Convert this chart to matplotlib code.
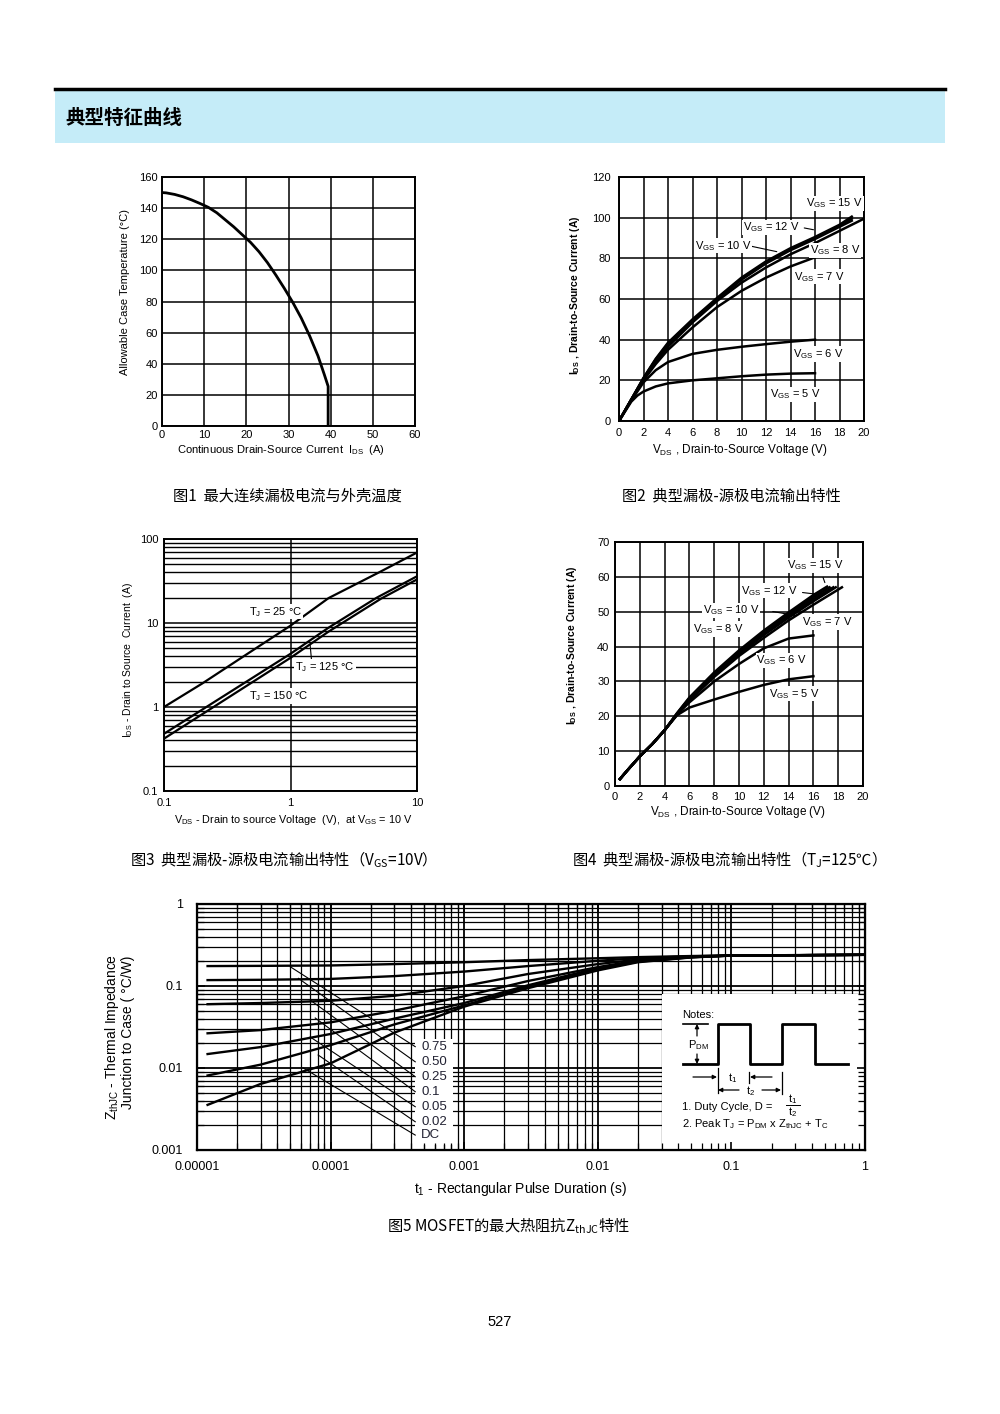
import numpy as np
import matplotlib
matplotlib.use('Agg')
from matplotlib import pyplot as plt
from matplotlib.ticker import MultipleLocator, FixedLocator, FixedFormatter, LogLocator, NullFormatter, NullLocator
from matplotlib.patches import Rectangle
from matplotlib.lines import Line2D

plt.rcParams['font.family'] = ['Liberation Sans', 'DejaVu Sans']
plt.rcParams['mathtext.fontset'] = 'custom'
plt.rcParams['mathtext.rm'] = 'Liberation Sans'
plt.rcParams['mathtext.default'] = 'regular'
CJK = ['Noto Sans CJK SC', 'DejaVu Sans']

# ---- fig1: allowable case temperature vs current
f1_ids = [0, 1, 3, 5, 7, 9, 11, 13, 15, 17, 19, 21, 23, 25, 27, 29, 31, 33, 35, 37, 38.5, 39.4, 39.4]
f1_tc = [150, 149.8, 148.8, 147.3, 145.3, 143, 140.5, 137, 132.5, 128, 123, 118, 112, 105, 97,
         88.5, 79.5, 69.5, 58, 45, 33, 25.5, 0]

# ---- fig2: output characteristics, 25C
f2_vds = [0, 1, 2, 3, 4, 6, 8, 10, 12, 14, 16]
f2_vds5 = [0, 1, 1.5, 2, 3, 4, 6, 8, 10, 12, 14, 16]
f2_vds8 = [0, 1, 2, 3, 4, 6, 8, 10, 12, 14, 16, 18, 20]
f2_vds_hi = [0, 1, 2, 3, 4, 6, 8, 10, 12, 14, 16, 18, 19]
f2_vgs5 = [0, 9.5, 12.5, 14.5, 17, 18.5, 20, 21, 22, 22.8, 23.3, 23.5]
f2_vgs6 = [0, 10, 19, 25, 29, 33, 35, 36.5, 37.8, 39, 40]
f2_vgs7 = [0, 10.5, 20, 28, 35, 46, 56, 64, 70.5, 76, 80.5]
f2_vgs8 = [0, 10.5, 20.5, 29, 36.5, 48.5, 59, 68, 75.5, 82, 87.5, 93.5, 99.5]
f2_vgs10 = [0, 10.5, 21, 30, 37.5, 49, 59.5, 69.5, 77.5, 84, 89.5, 95.5, 98.5]
f2_vgs12 = [0, 10.5, 21, 30.3, 38, 49.5, 60, 70, 78, 84.5, 90, 96, 99.5]
f2_vgs15 = [0, 10.5, 21.2, 30.6, 38.5, 50, 60.5, 70.5, 78.5, 85, 90.5, 96.5, 100.5]

# ---- fig3: log-log output at VGS=10V
f3_vds25 = [0.1, 0.2, 0.5, 1, 2, 5, 10]
f3_tj25 = [1.0, 1.9, 4.7, 9.3, 19.8, 40, 69]
f3_vds125 = [0.1, 1, 2, 4.8, 10]
f3_tj125 = [0.48, 4.3, 8.8, 20, 36]
f3_vds150 = [0.1, 1, 2, 5.2, 10]
f3_tj150 = [0.42, 3.85, 7.9, 19.5, 33]

# ---- fig4: output characteristics, TJ=125C
f4_vds = [0.4, 1, 2, 3, 4, 5, 6, 8, 10, 12, 14, 16]
f4_vgs5 = [2, 4.5, 8.5, 12, 16, 20.3, 22.5, 24.8, 27, 29, 30.6, 31.5]
f4_vgs6 = [2, 4.5, 8.5, 12, 16, 20.5, 24, 30, 35, 39.5, 42.3, 43.2]
f4_vgs7 = [2, 4.5, 8.5, 12, 16, 20.5, 24.5, 31.3, 37.3, 42.5, 47.5, 52, 57]
f4_vgs8 = [2, 4.5, 8.5, 12, 16, 20.6, 24.8, 31.7, 37.8, 43.3, 48.3, 53, 57]
f4_vgs10 = [2, 4.5, 8.5, 12, 16, 20.7, 25, 32, 38.2, 43.8, 48.8, 53.6, 57]
f4_vgs12 = [2, 4.5, 8.5, 12, 16, 20.8, 25.2, 32.3, 38.5, 44.2, 49.3, 54.2, 57]
f4_vgs15 = [2, 4.5, 8.5, 12, 16, 20.9, 25.4, 32.6, 38.9, 44.6, 49.8, 54.8, 57.2]
f4_end = {'7': 18.3, '8': 17.8, '10': 17.6, '12': 17.3, '15': 17.1}

# ---- fig5: transient thermal impedance
f5_t = [1.2e-5, 3e-5, 1e-4, 3e-4, 1e-3, 3e-3, 1e-2, 2e-2, 5e-2, 0.1, 1]
f5_d075 = [0.175, 0.176, 0.178, 0.185, 0.195, 0.207, 0.218, 0.225, 0.232, 0.236, 0.24]
f5_d050 = [0.118, 0.119, 0.122, 0.132, 0.15, 0.175, 0.203, 0.218, 0.23, 0.236, 0.24]
f5_d025 = [0.060, 0.062, 0.066, 0.076, 0.1, 0.14, 0.185, 0.21, 0.228, 0.235, 0.24]
f5_d010 = [0.0265, 0.029, 0.036, 0.05, 0.075, 0.115, 0.17, 0.205, 0.226, 0.235, 0.24]
f5_d005 = [0.0148, 0.018, 0.026, 0.04, 0.062, 0.102, 0.165, 0.2, 0.225, 0.235, 0.24]
f5_d002 = [0.0081, 0.011, 0.019, 0.034, 0.058, 0.098, 0.16, 0.198, 0.224, 0.235, 0.24]
f5_dc = [0.00355, 0.0064, 0.0114, 0.027, 0.056, 0.094, 0.155, 0.195, 0.223, 0.235, 0.24]
f5_labels = ['0.75', '0.50', '0.25', '0.1', '0.05', '0.02', 'DC']
f5_lead_t = [4.98e-5, 5.74e-5, 7.03e-5, 7.67e-5, 7.03e-5, 8.07e-5, 6.24e-5]
f5_lead_z = [0.172, 0.124, 0.0675, 0.0407, 0.0239, 0.0144, 0.0100]
f5_label_z = [0.0182, 0.0119, 0.00783, 0.00514, 0.00337, 0.00221, 0.00152]

W, H = 1000, 1414
fig = plt.figure(figsize=(10, 14.14), dpi=100)
WHITE = dict(facecolor='white', edgecolor='none', pad=0.6)


def box(l, t, r, b):
    return [l / W, 1 - b / H, (r - l) / W, (b - t) / H]


def ftext(x, y, s, **kw):
    kw.setdefault('ha', 'center')
    kw.setdefault('va', 'center')
    fig.text(x / W, 1 - y / H, s, **kw)


def style(ax, xpad, ypad, size=8):
    ax.grid(True, color='black', lw=1.1)
    ax.tick_params(length=0, labelsize=size)
    ax.tick_params(axis='x', pad=xpad)
    ax.tick_params(axis='y', pad=ypad)
    for s in ax.spines.values():
        s.set_linewidth(1.4)


# header
fig.add_artist(Rectangle((55 / W, 1 - 143 / H), 890 / W, 54 / H, transform=fig.transFigure,
                         facecolor='#c5ecf8', edgecolor='none', zorder=0))
fig.add_artist(Line2D([55 / W, 945 / W], [1 - 88.5 / H] * 2, color='black', lw=2.5))
ftext(65, 118, '典型特征曲线', family=CJK, fontsize=14, fontweight='bold', ha='left')

# fig1
ax1 = fig.add_axes(box(162, 177, 415, 426))
ax1.plot(f1_ids, f1_tc, color='black', lw=2)
ax1.set_xlim(0, 60)
ax1.set_ylim(0, 160)
ax1.xaxis.set_major_locator(MultipleLocator(10))
ax1.yaxis.set_major_locator(MultipleLocator(20))
style(ax1, 3, 3)
ftext(125, 292, 'Allowable Case Temperature (°C)', rotation=90, fontsize=8)
ftext(281, 450, 'Continuous Drain-Source Current  I$_{DS}$  (A)', fontsize=8)
ftext(287, 496, '图1  最大连续漏极电流与外壳温度', family=CJK, fontsize=11)

# fig2
ax2 = fig.add_axes(box(619, 177, 864, 421))
for xs, ys in [(f2_vds5, f2_vgs5), (f2_vds, f2_vgs6), (f2_vds, f2_vgs7), (f2_vds8, f2_vgs8),
               (f2_vds_hi, f2_vgs10), (f2_vds_hi, f2_vgs12), (f2_vds_hi, f2_vgs15)]:
    ax2.plot(xs, ys, color='black', lw=1.8)
ax2.set_xlim(0, 20)
ax2.set_ylim(0, 120)
ax2.xaxis.set_major_locator(MultipleLocator(2))
ax2.yaxis.set_major_locator(MultipleLocator(20))
style(ax2, 5, 6)
for s, x, y in [('15', 15.3, 107), ('12', 10.1, 95.2), ('10', 6.2, 86.2), ('8', 15.6, 84),
                ('7', 14.3, 71), ('6', 14.2, 33), ('5', 12.3, 13)]:
    ax2.text(x, y, 'V$_{GS}$ = %s V' % s, fontsize=8, ha='left', va='center', bbox=WHITE, zorder=4)
ax2.annotate('', xy=(16.1, 93.8), xytext=(14.9, 95.2), arrowprops=dict(arrowstyle='-', lw=0.8))
ax2.annotate('', xy=(13.1, 83), xytext=(10.6, 86.2), arrowprops=dict(arrowstyle='-', lw=0.8))
ftext(575, 295, 'I$_{DS}$ , Drain-to-Source Current (A)', rotation=90, fontsize=7.5, fontweight='bold')
ftext(740, 450, 'V$_{DS}$ , Drain-to-Source Voltage (V)', fontsize=8.5)
ftext(731, 496, '图2  典型漏极-源极电流输出特性', family=CJK, fontsize=11)

# fig3
ax3 = fig.add_axes(box(164, 539, 417, 791))
ax3.set_xscale('log')
ax3.set_yscale('log')
ax3.plot(f3_vds25, f3_tj25, color='black', lw=1.6)
ax3.plot(f3_vds125, f3_tj125, color='black', lw=1.6)
ax3.plot(f3_vds150, f3_tj150, color='black', lw=1.6)
ax3.set_xlim(0.1, 10)
ax3.set_ylim(0.1, 100)
ax3.xaxis.set_major_locator(FixedLocator([0.1, 1, 10]))
ax3.xaxis.set_major_formatter(FixedFormatter(['0.1', '1', '10']))
ax3.xaxis.set_minor_locator(NullLocator())
ax3.yaxis.set_major_locator(FixedLocator([0.1, 1, 10, 100]))
ax3.yaxis.set_major_formatter(FixedFormatter(['0.1', '1', '10', '100']))
ax3.yaxis.set_minor_locator(LogLocator(base=10, subs=np.arange(2, 10), numticks=50))
ax3.yaxis.set_minor_formatter(NullFormatter())
style(ax3, 5, 4)
ax3.grid(True, which='minor', axis='y', color='black', lw=1.0)
ax3.tick_params(which='minor', length=0)
ax3.text(0.466, 13.6, 'T$_{J}$ = 25 °C', fontsize=8, ha='left', va='center', bbox=WHITE, zorder=4)
ax3.text(1.09, 3.0, 'T$_{J}$ = 125 °C', fontsize=8, ha='left', va='center', bbox=WHITE, zorder=4)
ax3.text(0.466, 1.35, 'T$_{J}$ = 150 °C', fontsize=8, ha='left', va='center', bbox=WHITE, zorder=4)
ax3.plot([1.43, 1.47], [5.46, 3.45], color='black', lw=0.8)
ftext(128, 660, 'I$_{DS}$ - Drain to Source  Current  (A)', rotation=90, fontsize=7.5)
ftext(293, 820, 'V$_{DS}$ - Drain to source Voltage  (V),  at V$_{GS}$ = 10 V', fontsize=7.8)
ftext(130, 860, '图3  典型漏极-源极电流输出特性（V$_{GS}$=10V）', family=CJK, fontsize=11, ha='left')

# fig4
ax4 = fig.add_axes(box(615, 542, 863, 786))
ax4.plot(f4_vds, f4_vgs5, color='black', lw=1.8)
ax4.plot(f4_vds, f4_vgs6, color='black', lw=1.8)
for k, ys in [('7', f4_vgs7), ('8', f4_vgs8), ('10', f4_vgs10), ('12', f4_vgs12), ('15', f4_vgs15)]:
    ax4.plot(f4_vds + [f4_end[k]], ys, color='black', lw=1.8)
ax4.set_xlim(0, 20)
ax4.set_ylim(0, 70)
ax4.xaxis.set_major_locator(MultipleLocator(2))
ax4.yaxis.set_major_locator(MultipleLocator(10))
style(ax4, 4, 4)
for s, x, y in [('15', 13.9, 63.3), ('12', 10.2, 56), ('10', 7.1, 50.4), ('8', 6.3, 45),
                ('7', 15.1, 47), ('6', 11.4, 36), ('5', 12.4, 26.5)]:
    ax4.text(x, y, 'V$_{GS}$ = %s V' % s, fontsize=8, ha='left', va='center', bbox=WHITE, zorder=4)
ax4.annotate('', xy=(17.0, 57.6), xytext=(16.7, 60.6), arrowprops=dict(arrowstyle='-', lw=0.8))
ax4.annotate('', xy=(16.3, 55.0), xytext=(14.9, 55.6), arrowprops=dict(arrowstyle='-', lw=0.8))
ax4.annotate('', xy=(14.7, 48.8), xytext=(12.5, 50.2), arrowprops=dict(arrowstyle='-', lw=0.8))
ftext(572, 645, 'I$_{DS}$ , Drain-to-Source Current (A)', rotation=90, fontsize=7.5, fontweight='bold')
ftext(738, 812, 'V$_{DS}$ , Drain-to-Source Voltage (V)', fontsize=8.5)
ftext(572, 860, '图4  典型漏极-源极电流输出特性（T$_{J}$=125℃）', family=CJK, fontsize=11, ha='left')

# fig5
r5 = box(197, 904, 865, 1150)
ax5 = fig.add_axes(r5, zorder=0)
ax5.set_xscale('log')
ax5.set_yscale('log')
ax5.set_axisbelow(True)
for zs in [f5_d075, f5_d050, f5_d025, f5_d010, f5_d005, f5_d002, f5_dc]:
    ax5.plot(f5_t, zs, color='black', lw=1.7, zorder=2)
ax5.set_xlim(1e-5, 1)
ax5.set_ylim(1e-3, 1)
for a in (ax5.xaxis, ax5.yaxis):
    a.set_minor_locator(LogLocator(base=10, subs=np.arange(2, 10), numticks=50))
    a.set_minor_formatter(NullFormatter())
ax5.xaxis.set_major_locator(FixedLocator([1e-5, 1e-4, 1e-3, 1e-2, 0.1, 1]))
ax5.xaxis.set_major_formatter(FixedFormatter(['0.00001', '0.0001', '0.001', '0.01', '0.1', '1']))
ax5.yaxis.set_major_locator(FixedLocator([1e-3, 1e-2, 0.1, 1]))
ax5.yaxis.set_major_formatter(FixedFormatter(['0.001', '0.01', '0.1', '1']))
ax5.grid(True, which='major', color='black', lw=1.3)
ax5.grid(True, which='minor', color='black', lw=0.9)
ax5.tick_params(which='both', length=0, labelsize=9)
ax5.tick_params(axis='x', pad=8)
ax5.tick_params(axis='y', pad=10)
ax5.add_patch(Rectangle((0.326, 0.02), 0.057, 0.43, transform=ax5.transAxes,
                        facecolor='white', edgecolor='none', zorder=1))
for lab, t0, z0, z1 in zip(f5_labels, f5_lead_t, f5_lead_z, f5_label_z):
    ax5.plot([t0, 4.3e-4], [z0, z1], color='black', lw=0.8, zorder=2)
    ax5.text(4.75e-4, z1, lab, fontsize=9.5, ha='left', va='center', color='#222233', zorder=3)

# notes box
axn = fig.add_axes(box(662, 994, 865, 1150), zorder=1)
axn.set_xlim(662, 865)
axn.set_ylim(1150, 994)
axn.set_xticks([])
axn.set_yticks([])
axn.set_facecolor('white')
for s in axn.spines.values():
    s.set_visible(False)
axn.plot([683, 718, 718, 750, 750, 782, 782, 815, 815, 848],
         [1064, 1064, 1024, 1024, 1064, 1064, 1024, 1024, 1064, 1064], color='black', lw=2)
axn.plot([683, 708], [1024, 1024], color='black', lw=1.2)
ap = dict(arrowstyle='-|>', lw=0.9, color='black', mutation_scale=6, shrinkA=0, shrinkB=0)
axn.annotate('', xy=(697, 1024), xytext=(697, 1036), arrowprops=ap)
axn.annotate('', xy=(697, 1064), xytext=(697, 1054), arrowprops=ap)
axn.text(698, 1045, 'P$_{DM}$', fontsize=8, ha='center', va='center')
axn.text(682, 1015, 'Notes:', fontsize=8, ha='left', va='center')
for x, y0, y1 in [(718, 1068, 1093), (749, 1072, 1083), (782, 1072, 1094)]:
    axn.plot([x, x], [y0, y1], color='black', lw=0.9)
axn.annotate('', xy=(717, 1077), xytext=(693, 1077), arrowprops=ap)
axn.annotate('', xy=(750, 1077), xytext=(772, 1077), arrowprops=ap)
axn.text(733, 1078, 't$_1$', fontsize=8, ha='center', va='center')
axn.annotate('', xy=(718, 1090), xytext=(739, 1090), arrowprops=ap)
axn.annotate('', xy=(781, 1090), xytext=(762, 1090), arrowprops=ap)
axn.text(751, 1091, 't$_2$', fontsize=8, ha='center', va='center')
axn.text(682, 1107, '1. Duty Cycle, D =', fontsize=8, ha='left', va='center')
axn.text(793, 1099, 't$_1$', fontsize=8, ha='center', va='center')
axn.plot([786, 800], [1105, 1105], color='black', lw=0.7)
axn.text(793, 1112, 't$_2$', fontsize=8, ha='center', va='center')
axn.text(682, 1124, '2. Peak T$_J$ = P$_{DM}$ x Z$_{thJC}$ + T$_C$', fontsize=8, ha='left', va='center')

# overlay frame with inward ticks
ax5o = fig.add_axes(r5, zorder=2)
ax5o.set_xscale('log')
ax5o.set_yscale('log')
ax5o.set_xlim(1e-5, 1)
ax5o.set_ylim(1e-3, 1)
ax5o.patch.set_alpha(0)
for a in (ax5o.xaxis, ax5o.yaxis):
    a.set_minor_locator(LogLocator(base=10, subs=np.arange(2, 10), numticks=50))
    a.set_minor_formatter(NullFormatter())
    a.set_major_formatter(NullFormatter())
ax5o.tick_params(which='both', direction='in', top=True, right=True, color='black')
ax5o.tick_params(which='major', length=6, width=1.2)
ax5o.tick_params(which='minor', length=5, width=0.9)
for s in ax5o.spines.values():
    s.set_linewidth(1.6)

ftext(112, 1037, 'Z$_{thJC}$ - Thermal Impedance', rotation=90, fontsize=10)
ftext(128, 1032, 'Junction to Case ( °C/W)', rotation=90, fontsize=10)
ftext(520, 1189, 't$_1$ - Rectangular Pulse Duration (s)', fontsize=10)
ftext(508, 1226, '图5 MOSFET的最大热阻抗Z$_{thJC}$特性', family=CJK, fontsize=11)

ftext(500, 1322, '527', fontsize=10.5)

fig.savefig('out.png', dpi=100)
